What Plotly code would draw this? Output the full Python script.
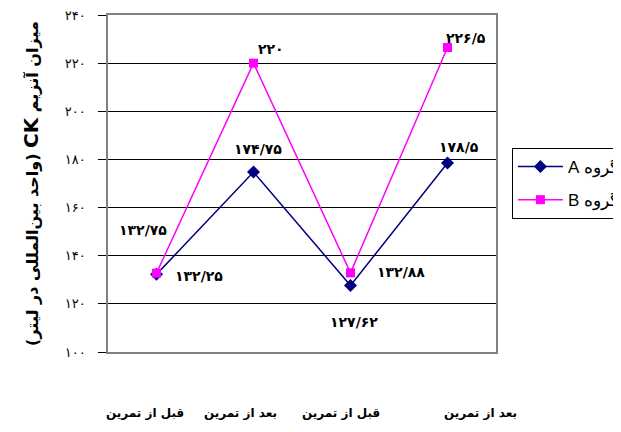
import plotly.graph_objects as go

# data
categories = ["قبل از تمرین", "بعد از تمرین", "قبل از تمرین", "بعد از تمرین"]
group_a = [132.25, 174.75, 127.62, 178.5]
group_b = [132.75, 220, 132.88, 226.5]
series_names = ["گروه A", "گروه B"]
y_ticks = [100, 120, 140, 160, 180, 200, 220, 240]
y_title = "میزان آنزیم <span style=\"font-size:20px\">CK</span> (واحد بین‌المللی در لیتر)"

PERSIAN = str.maketrans("0123456789.", "۰۱۲۳۴۵۶۷۸۹/")
RTL_START, RTL_END = "\u202b", "\u202c"  # right-to-left embedding for svg text


def fa(v):
    """Number -> Persian digits, with '/' as decimal mark."""
    return f"{v:g}".translate(PERSIAN)


def rtl(s):
    return RTL_START + s + RTL_END


xs = list(range(len(categories)))
font_fa = "DejaVu Sans, Arial"

fig = go.Figure()
fig.add_trace(go.Scatter(
    x=xs, y=group_a, name=rtl(series_names[0]), mode="lines+markers",
    legendgroup="a",
    line=dict(color="#000080", width=1.5),
    marker=dict(symbol="diamond", size=10, color="#000080"),
))
fig.add_trace(go.Scatter(
    x=xs, y=group_b, name=rtl(series_names[1]), mode="lines+markers",
    legendgroup="b",
    line=dict(color="#FF00FF", width=1.5),
    marker=dict(symbol="square", size=9, color="#FF00FF"),
))

# value labels (pixel offsets per point, A then B)
shift_a = [(42, -2), (4, 23), (3, -36), (11, 16)]
shift_b = [(-14, 43), (17, 14), (50, 1), (18, 10)]
for vals, shifts in ((group_a, shift_a), (group_b, shift_b)):
    for x, v, (dx, dy) in zip(xs, vals, shifts):
        fig.add_annotation(x=x, y=v, text=f"<b>{fa(v)}</b>", showarrow=False,
                           xshift=dx, yshift=dy,
                           font=dict(family=font_fa, size=14, color="black"))

# category labels under the plot, placed like the original
cat_shift = [-12, -13, -10, 33]
for x, c, dx in zip(xs, categories, cat_shift):
    fig.add_annotation(x=x, y=0, xref="x", yref="paper", text=f"<b>{rtl(c)}</b>",
                       showarrow=False, xshift=dx, yshift=-52, yanchor="top",
                       font=dict(family=font_fa, size=12, color="black"))

fig.update_xaxes(
    range=[-0.5, len(categories) - 0.5], showticklabels=False, showgrid=False,
    zeroline=False, showline=True, linecolor="#808080", linewidth=1.5, mirror=True,
    automargin=False,
)
fig.update_yaxes(
    range=[100, 240], tickvals=y_ticks, ticktext=[fa(t) for t in y_ticks],
    ticks="outside", ticklen=8, tickcolor="black", ticklabelstandoff=10,
    ticklabeloverflow="allow",
    showgrid=True, gridcolor="black", gridwidth=1, zeroline=False,
    showline=True, linecolor="#808080", linewidth=1.5, mirror=True,
    tickfont=dict(family=font_fa, size=13, color="black"),
    automargin=False,
    title=dict(text=f"<b>{rtl(y_title)}</b>", standoff=22,
               font=dict(family=font_fa, size=16, color="black")),
)

# the page adds an 8px body margin, so the figure is 8px smaller than the window
fig.update_layout(
    width=613, height=424,
    margin=dict(l=100, r=125, t=7, b=80, autoexpand=False),
    paper_bgcolor="white", plot_bgcolor="white",
    showlegend=True,
    legend=dict(
        x=1.041, y=0.5, xanchor="left", yanchor="middle",
        bordercolor="black", borderwidth=1, bgcolor="white",
        font=dict(family="Arial", size=17, color="black"),
        itemwidth=45, traceorder="grouped", tracegroupgap=8,
    ),
)

fig.write_html("out.html")
